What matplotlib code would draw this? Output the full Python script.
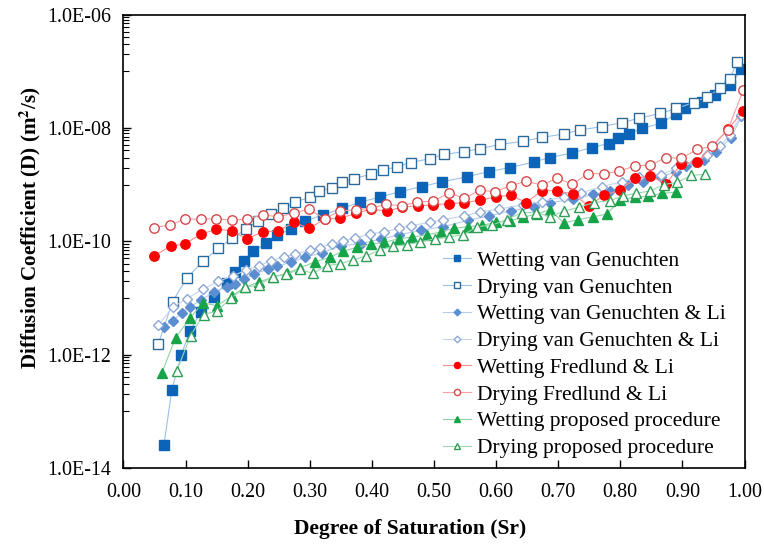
import matplotlib
matplotlib.use('Agg')
import matplotlib.pyplot as plt
from matplotlib.ticker import FixedLocator, FuncFormatter, MultipleLocator
import numpy as np

plt.rcParams['font.family'] = ['Liberation Serif', 'DejaVu Serif']
plt.rcParams['mathtext.fontset'] = 'stix'

# --- data (Sr, D in m2/s) ---
sr_wet_vg = [0.065, 0.078, 0.093, 0.107, 0.125, 0.145, 0.166, 0.179, 0.194, 0.208,
             0.230, 0.247, 0.270, 0.293, 0.321, 0.352, 0.381, 0.413, 0.445, 0.480,
             0.513, 0.553, 0.588, 0.623, 0.661, 0.686, 0.722, 0.754, 0.781, 0.796,
             0.814, 0.835, 0.865, 0.889, 0.904, 0.932, 0.953, 0.977, 0.995]
d_wet_vg = [2.5e-14, 2.4e-13, 9.9e-13, 2.6e-12, 5.7e-12, 1.05e-11, 1.84e-11, 2.9e-11, 4.4e-11, 6.6e-11,
            9.2e-11, 1.28e-10, 1.65e-10, 2.3e-10, 2.9e-10, 3.8e-10, 4.9e-10, 6.0e-10, 7.5e-10, 9.2e-10,
            1.12e-9, 1.37e-9, 1.69e-9, 2.0e-9, 2.5e-9, 3.0e-9, 3.6e-9, 4.5e-9, 5.3e-9, 6.6e-9,
            7.8e-9, 9.8e-9, 1.2e-8, 1.74e-8, 2.2e-8, 2.9e-8, 3.8e-8, 5.7e-8, 1.08e-7]

sr_dry_vg = [0.056, 0.079, 0.102, 0.128, 0.153, 0.175, 0.197, 0.216, 0.237, 0.257,
             0.277, 0.300, 0.315, 0.335, 0.352, 0.371, 0.398, 0.418, 0.441, 0.463,
             0.494, 0.516, 0.548, 0.574, 0.606, 0.643, 0.674, 0.709, 0.735, 0.770,
             0.803, 0.830, 0.864, 0.890, 0.918, 0.940, 0.961, 0.976, 0.988]
d_dry_vg = [1.52e-12, 8.6e-12, 2.25e-11, 4.4e-11, 7.5e-11, 1.14e-10, 1.63e-10, 2.28e-10, 3.07e-10, 3.8e-10,
            4.9e-10, 6.0e-10, 7.6e-10, 8.8e-10, 1.1e-9, 1.27e-9, 1.52e-9, 1.79e-9, 2.07e-9, 2.45e-9,
            2.88e-9, 3.4e-9, 3.8e-9, 4.3e-9, 5.1e-9, 5.8e-9, 6.8e-9, 7.8e-9, 9.2e-9, 1.05e-8,
            1.24e-8, 1.48e-8, 1.8e-8, 2.2e-8, 2.8e-8, 3.55e-8, 5.0e-8, 7.3e-8, 1.44e-7]

sr_wet_vgli = [0.065, 0.079, 0.094, 0.107, 0.125, 0.145, 0.166, 0.179, 0.194, 0.210,
               0.232, 0.247, 0.270, 0.292, 0.320, 0.350, 0.382, 0.415, 0.444, 0.479,
               0.514, 0.554, 0.589, 0.624, 0.661, 0.687, 0.724, 0.756, 0.783, 0.812,
               0.836, 0.866, 0.890, 0.906, 0.934, 0.954, 0.978, 0.995]
d_wet_vgli = [3.08e-12, 3.98e-12, 5.4e-12, 6.9e-12, 9.3e-12, 1.25e-11, 1.58e-11, 1.78e-11, 2.2e-11, 2.6e-11,
              3.2e-11, 3.6e-11, 4.3e-11, 5.2e-11, 6.3e-11, 8.3e-11, 9.1e-11, 1.1e-10, 1.3e-10, 1.56e-10,
              1.8e-10, 2.33e-10, 2.8e-10, 3.45e-10, 4.0e-10, 4.8e-10, 5.5e-10, 6.7e-10, 7.8e-10, 9.8e-10,
              1.12e-9, 1.38e-9, 1.69e-9, 2.1e-9, 2.7e-9, 3.8e-9, 6.6e-9, 1.6e-8]

sr_dry_vgli = [0.056, 0.079, 0.102, 0.128, 0.153, 0.176, 0.197, 0.218, 0.238, 0.258,
               0.277, 0.300, 0.316, 0.335, 0.353, 0.373, 0.397, 0.419, 0.443, 0.463,
               0.493, 0.515, 0.548, 0.574, 0.605, 0.643, 0.674, 0.709, 0.736, 0.770,
               0.803, 0.830, 0.865, 0.890, 0.920, 0.940, 0.961, 0.976, 0.995]
d_dry_vgli = [3.3e-12, 6.8e-12, 9.7e-12, 1.43e-11, 1.97e-11, 2.44e-11, 3.08e-11, 3.7e-11, 4.5e-11, 5.3e-11,
              6.0e-11, 7.0e-11, 7.7e-11, 9.1e-11, 1.01e-10, 1.14e-10, 1.35e-10, 1.46e-10, 1.68e-10, 1.88e-10,
              2.15e-10, 2.4e-10, 2.8e-10, 3.3e-10, 3.7e-10, 4.4e-10, 5.0e-10, 6.1e-10, 7.1e-10, 9.2e-10,
              1.12e-9, 1.38e-9, 1.48e-9, 1.94e-9, 2.5e-9, 3.3e-9, 4.8e-9, 7.5e-9, 1.69e-8]

sr_wet_fl = [0.049, 0.076, 0.099, 0.125, 0.149, 0.175, 0.199, 0.224, 0.249, 0.275,
             0.298, 0.325, 0.348, 0.375, 0.398, 0.424, 0.448, 0.474, 0.498, 0.524,
             0.549, 0.574, 0.600, 0.624, 0.648, 0.674, 0.698, 0.724, 0.749, 0.774,
             0.799, 0.824, 0.848, 0.874, 0.898, 0.924, 0.974, 0.997]
d_wet_fl = [5.5e-11, 8.2e-11, 9.0e-11, 1.33e-10, 1.63e-10, 1.53e-10, 1.09e-10, 1.48e-10, 1.52e-10, 2.16e-10,
            1.69e-10, 2.44e-10, 2.55e-10, 3.1e-10, 3.7e-10, 3.4e-10, 4.0e-10, 4.2e-10, 4.4e-10, 4.6e-10,
            4.8e-10, 5.3e-10, 6.1e-10, 6.5e-10, 4.8e-10, 7.8e-10, 7.8e-10, 6.8e-10, 4.2e-10, 6.5e-10,
            7.9e-10, 1.29e-9, 1.42e-9, 1.03e-9, 2.33e-9, 2.5e-9, 9.6e-9, 1.95e-8]

sr_dry_fl = [0.049, 0.075, 0.099, 0.125, 0.149, 0.175, 0.199, 0.224, 0.249, 0.275,
             0.298, 0.324, 0.348, 0.374, 0.399, 0.423, 0.448, 0.473, 0.499, 0.524,
             0.549, 0.574, 0.598, 0.624, 0.648, 0.674, 0.698, 0.723, 0.748, 0.773,
             0.798, 0.824, 0.848, 0.874, 0.898, 0.924, 0.948, 0.973, 0.998]
d_dry_fl = [1.74e-10, 1.94e-10, 2.45e-10, 2.45e-10, 2.5e-10, 2.35e-10, 2.45e-10, 2.94e-10, 2.7e-10, 3.15e-10,
            3.7e-10, 2.5e-10, 3.4e-10, 3.6e-10, 3.8e-10, 4.5e-10, 4.2e-10, 4.9e-10, 5.1e-10, 7.1e-10,
            5.7e-10, 8.0e-10, 7.5e-10, 9.6e-10, 1.14e-9, 9.8e-10, 1.29e-9, 1.02e-9, 1.56e-9, 1.56e-9,
            1.72e-9, 2.15e-9, 2.2e-9, 3.0e-9, 2.9e-9, 4.2e-9, 4.7e-9, 9.2e-9, 4.6e-8]

sr_wet_pp = [0.062, 0.084, 0.107, 0.128, 0.151, 0.174, 0.196, 0.218, 0.241, 0.263,
             0.284, 0.308, 0.332, 0.354, 0.376, 0.398, 0.420, 0.443, 0.465, 0.488,
             0.511, 0.533, 0.555, 0.578, 0.600, 0.622, 0.644, 0.666, 0.687, 0.709,
             0.732, 0.756, 0.778, 0.800, 0.824, 0.845, 0.867, 0.889]
d_wet_pp = [4.8e-13, 2.0e-12, 4.4e-12, 8.2e-12, 7.3e-12, 1.08e-11, 1.55e-11, 1.9e-11, 2.35e-11, 2.7e-11,
            3.4e-11, 4.3e-11, 5.2e-11, 6.7e-11, 7.8e-11, 8.9e-11, 9.6e-11, 1.1e-10, 1.18e-10, 1.29e-10,
            1.46e-10, 1.7e-10, 1.8e-10, 1.92e-10, 2.15e-10, 2.3e-10, 2.65e-10, 3.05e-10, 3.6e-10, 2.1e-10,
            2.4e-10, 2.7e-10, 3.0e-10, 5.4e-10, 6.0e-10, 6.2e-10, 7.0e-10, 7.3e-10]

sr_dry_pp = [0.086, 0.108, 0.129, 0.151, 0.173, 0.196, 0.218, 0.240, 0.262, 0.284,
             0.305, 0.327, 0.348, 0.370, 0.391, 0.413, 0.434, 0.456, 0.477, 0.501,
             0.524, 0.546, 0.570, 0.594, 0.617, 0.641, 0.665, 0.687, 0.709, 0.734,
             0.757, 0.783, 0.804, 0.825, 0.848, 0.870, 0.891, 0.914, 0.936]
d_dry_pp = [5.2e-13, 2.16e-12, 5.1e-12, 5.9e-12, 9.9e-12, 1.53e-11, 1.7e-11, 2.35e-11, 2.6e-11, 3.2e-11,
            2.7e-11, 3.7e-11, 4.0e-11, 4.7e-11, 5.5e-11, 7.0e-11, 8.2e-11, 8.7e-11, 9.7e-11, 1.1e-10,
            1.2e-10, 1.29e-10, 1.8e-10, 1.94e-10, 2.4e-10, 3.2e-10, 3.2e-10, 2.7e-10, 3.4e-10, 4.0e-10,
            4.8e-10, 5.2e-10, 6.3e-10, 7.0e-10, 7.7e-10, 1.0e-9, 1.09e-9, 1.45e-9, 1.52e-9]

labels = ['Wetting van Genuchten', 'Drying van Genuchten',
          'Wetting van Genuchten & Li', 'Drying van Genuchten & Li',
          'Wetting Fredlund & Li', 'Drying Fredlund & Li',
          'Wetting proposed procedure', 'Drying proposed procedure']

fig = plt.figure(figsize=(7.64, 5.46), dpi=100)
ax = fig.add_axes([0.1616, 0.1429, 0.8129, 0.8305])

# (x, y, marker, size, face, edge, line colour)
styles = [
    (sr_wet_vg, d_wet_vg, 's', 6.5, '#0B64B8', '#0B64B8', '#9CC1E4'),
    (sr_dry_vg, d_dry_vg, 's', 6.5, 'white', '#2C6A9C', '#9CC1E4'),
    (sr_wet_vgli, d_wet_vgli, 'D', 5.2, '#5A8ED0', '#5A8ED0', '#B4CCEA'),
    (sr_dry_vgli, d_dry_vgli, 'D', 5.2, 'white', '#8DA8D6', '#C4D4EC'),
    (sr_wet_fl, d_wet_fl, 'o', 6.8, '#FF0000', '#FF0000', '#FF8C8C'),
    (sr_dry_fl, d_dry_fl, 'o', 6.8, 'white', '#D94848', '#F4A0A0'),
    (sr_wet_pp, d_wet_pp, '^', 7.0, '#15A448', '#15A448', '#8ED3A4'),
    (sr_dry_pp, d_dry_pp, '^', 7.0, 'white', '#2E9E56', '#9AD6AE'),
]

for (x, y, m, ms, fc, ec, lc), lab in zip(styles, labels):
    ax.plot(x, y, color=lc, lw=0.8, marker=m, markersize=ms,
            markerfacecolor=fc, markeredgecolor=ec, markeredgewidth=1.0, label=lab)

ax.set_yscale('log')
ax.set_xlim(0, 1)
ax.set_ylim(1e-14, 1e-6)

ax.xaxis.set_major_locator(MultipleLocator(0.1))
ax.xaxis.set_major_formatter(FuncFormatter(lambda v, p: f'{v:.2f}'))
ax.yaxis.set_major_locator(FixedLocator([1e-14, 1e-12, 1e-10, 1e-8, 1e-6]))
ax.yaxis.set_major_formatter(FuncFormatter(lambda v, p: '1.0E-%02d' % round(-np.log10(v))))
minors = [k * 10.0 ** (n + 1) for n in range(-14, -6, 2) for k in range(1, 10)]
ax.yaxis.set_minor_locator(FixedLocator(minors))
ax.yaxis.set_minor_formatter(FuncFormatter(lambda v, p: ''))

ax.tick_params(axis='both', which='major', direction='in', length=6, width=1.0,
               labelsize=14.4)
ax.tick_params(axis='x', which='major', pad=11)
ax.tick_params(axis='y', which='major', pad=9)
ax.tick_params(axis='y', which='minor', direction='in', length=4, width=0.8)
for s in ax.spines.values():
    s.set_linewidth(1.2)

ax.set_xlabel('Degree of Saturation (Sr)', fontsize=15.5, fontweight='bold')
ax.set_ylabel('Diffusion Coefficient (D) (m$^\\mathbf{2}$/s)', fontsize=15.2,
              fontweight='bold')
ax.xaxis.set_label_coords(0.461, -0.112)
ax.yaxis.set_label_coords(-0.1296, 0.529)

ax.legend(loc='upper left', bbox_to_anchor=(0.515, 0.479), frameon=False,
          fontsize=15.5, markerscale=0.65, handlelength=1.3, handletextpad=0.25,
          labelspacing=0.31, borderpad=0, borderaxespad=0)

fig.savefig('out.png', dpi=100)
